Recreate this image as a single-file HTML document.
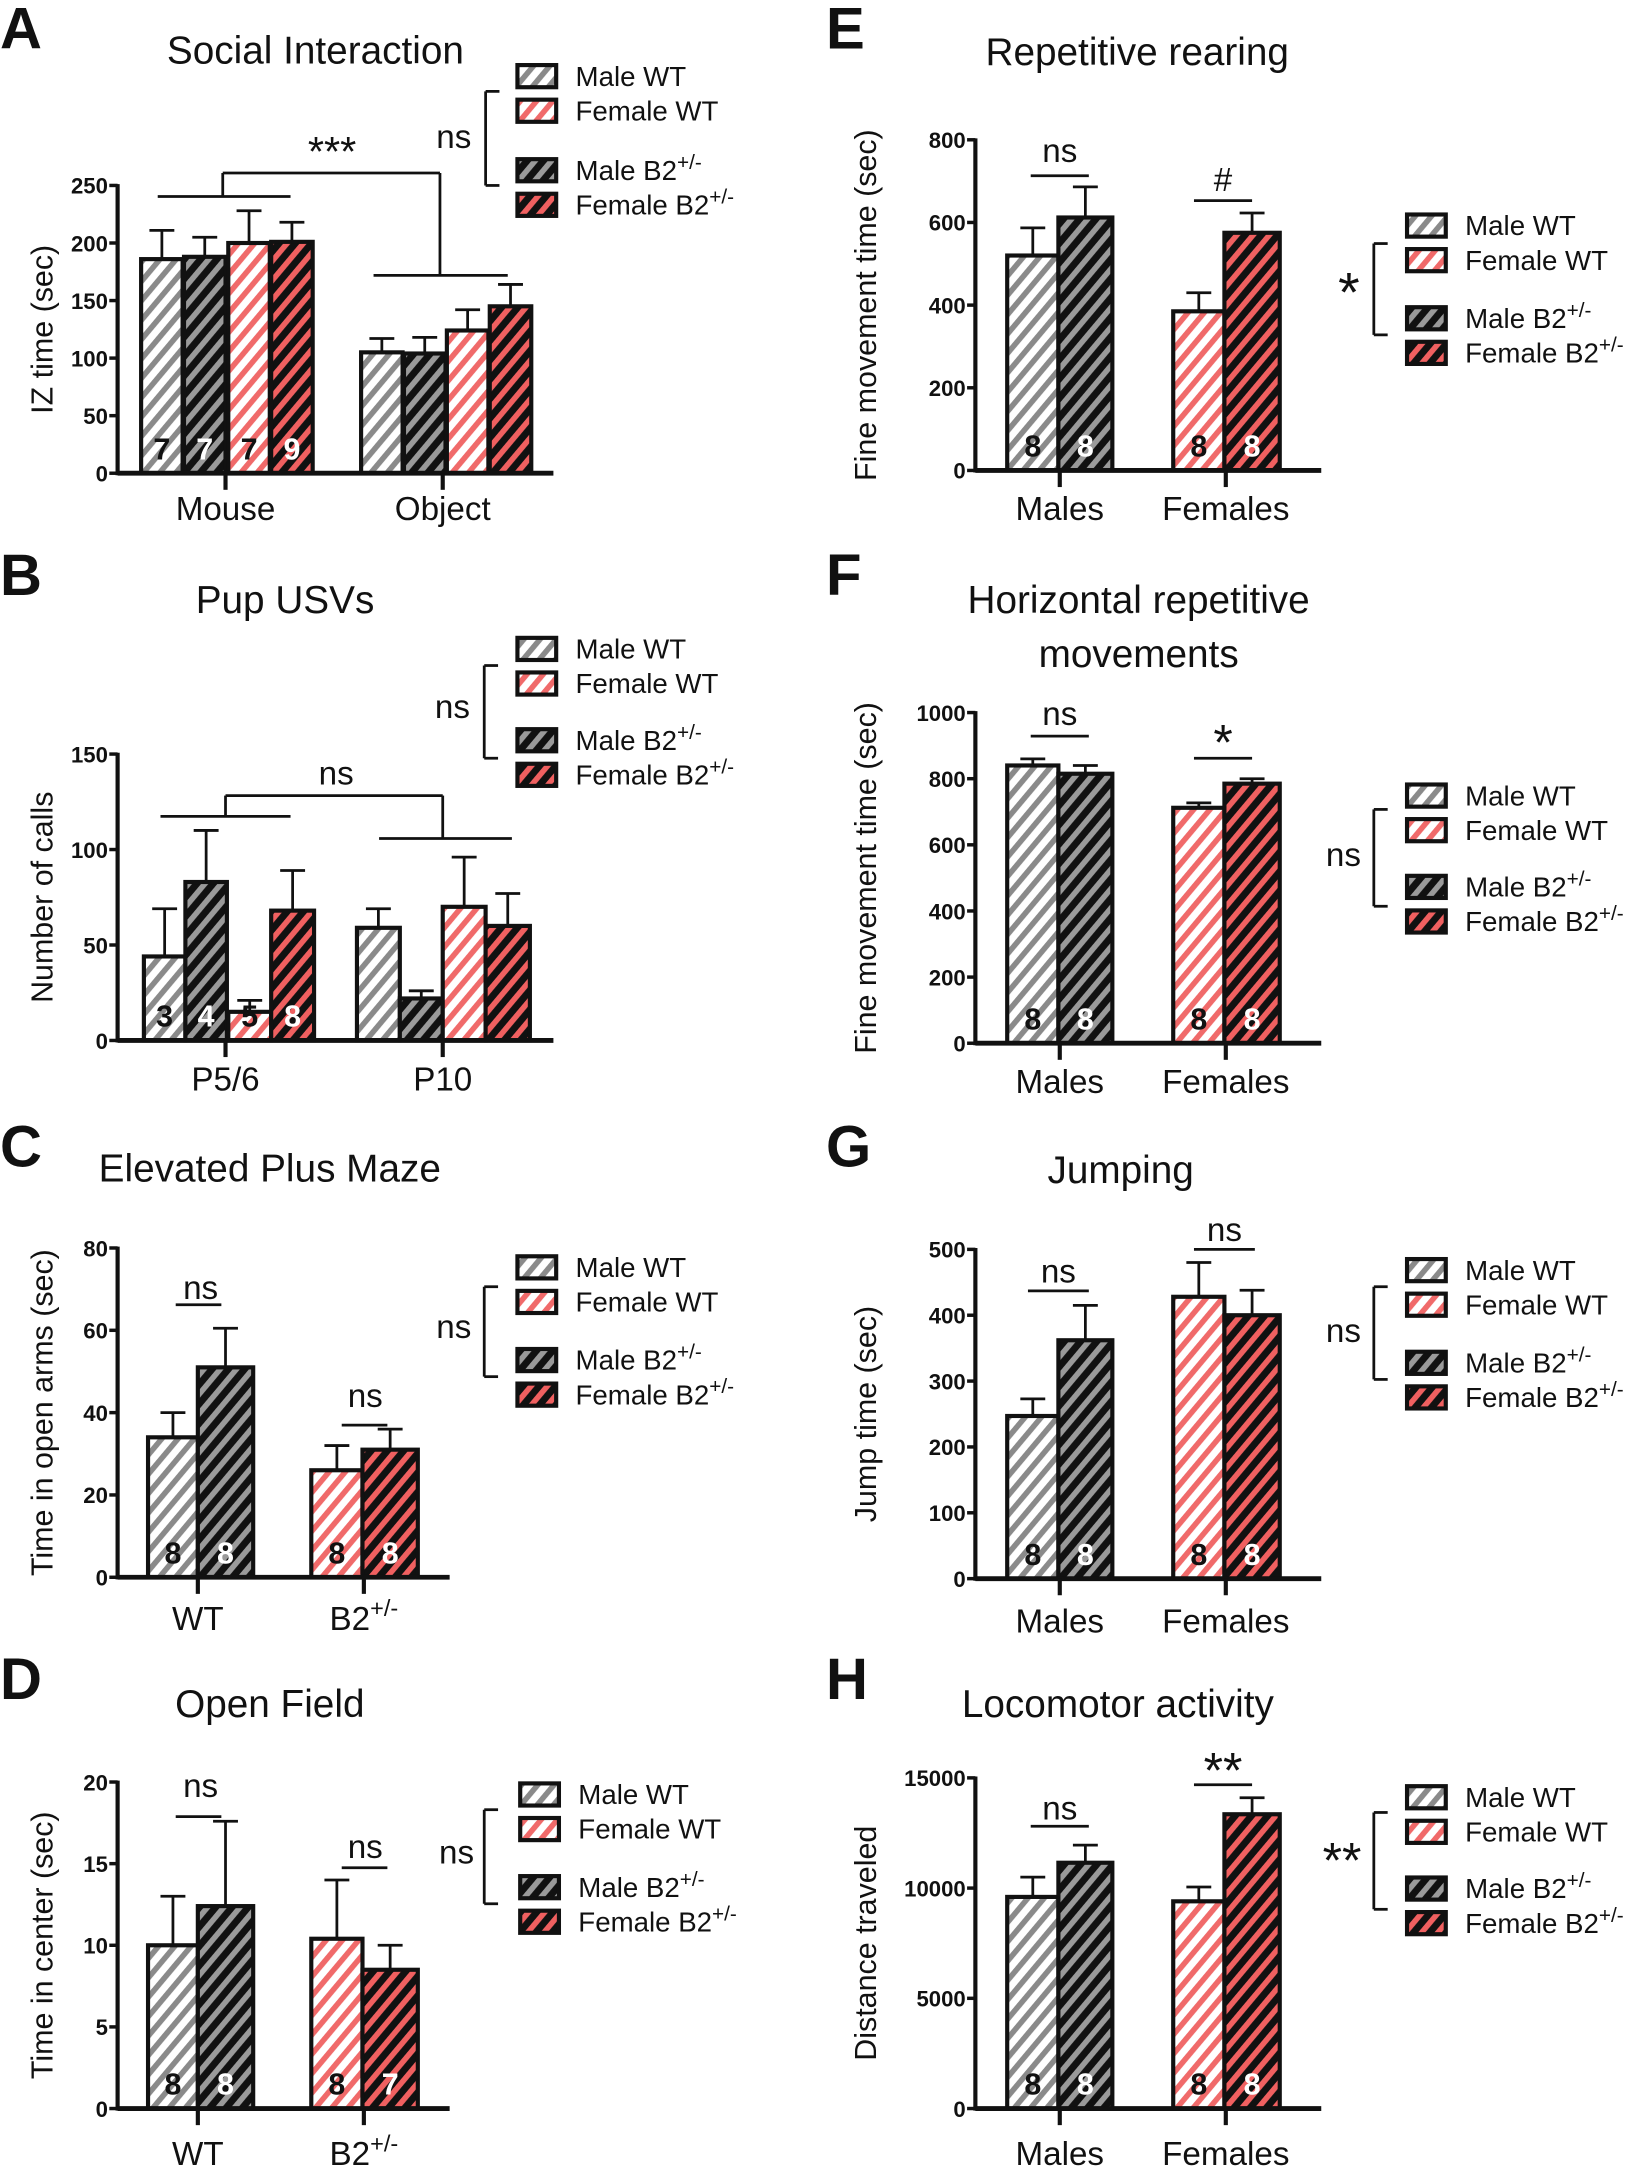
<!DOCTYPE html>
<html><head><meta charset="utf-8"><style>html,body{margin:0;padding:0;background:#fff}svg{display:block}</style></head>
<body>
<svg id="s" xmlns="http://www.w3.org/2000/svg" width="1645" height="2175" viewBox="0 0 1189 1572" font-family="Liberation Sans, sans-serif">
<defs>
<pattern id="p0" patternUnits="userSpaceOnUse" width="9" height="9" patternTransform="rotate(40)"><rect width="9" height="9" fill="#fff"/><rect width="4" height="9" fill="#8a8a8a"/></pattern>
<pattern id="p1" patternUnits="userSpaceOnUse" width="9" height="9" patternTransform="rotate(40)"><rect width="9" height="9" fill="#fff"/><rect width="4" height="9" fill="#f06a6a"/></pattern>
<pattern id="p2" patternUnits="userSpaceOnUse" width="9" height="9" patternTransform="rotate(40)"><rect width="9" height="9" fill="#111"/><rect width="4" height="9" fill="#9a9a9a"/></pattern>
<pattern id="p3" patternUnits="userSpaceOnUse" width="9" height="9" patternTransform="rotate(40)"><rect width="9" height="9" fill="#111"/><rect width="4" height="9" fill="#f06060"/></pattern>
</defs>
</svg>
<script>
var s=document.getElementById('s'),o='';
function T(x,y,t,sz,opt){opt=opt||{};o+='<text x="'+x+'" y="'+y+'" font-size="'+sz+'" text-anchor="'+(opt.a||'middle')+'"'+(opt.w?' font-weight="bold"':'')+' fill="'+(opt.f||'#111')+'"'+(opt.r?' transform="rotate(-90 '+x+' '+y+')"':'')+'>'+t+'</text>';}
function L(x1,y1,x2,y2,w){o+='<line x1="'+x1+'" y1="'+y1+'" x2="'+x2+'" y2="'+y2+'" stroke="#111" stroke-width="'+(w||2)+'"/>';}
function legend(bx,ys,nsx,nsy,sym,brx,b1,b2,symSize){
 var names=['Male WT','Female WT','Male B2<tspan dy="-8" font-size="15">+/-</tspan>','Female B2<tspan dy="-8" font-size="15">+/-</tspan>'];
 for(var i=0;i<4;i++){o+='<rect x="'+bx+'" y="'+ys[i]+'" width="28" height="16" fill="url(#p'+[0,1,2,3][i]+')" stroke="#111" stroke-width="3"/>';T(bx+42,ys[i]+15,names[i],20,{a:'start'});}
 L(brx,b1,brx,b2,2);L(brx,b1,brx+10,b1,2);L(brx,b2,brx+10,b2,2);
 T(nsx,nsy,sym,symSize||24);
}
function panel(p){
 var ax=p.ax,top=p.top,bot=p.bot,max=p.max;
 function Y(v){return bot-(bot-top)*v/max;}
 T(p.lx,p.ly,p.letter,42,{a:'start',w:1});
 for(var k=0;k<p.title.length;k++)T(p.tx,p.ty+k*39,p.title[k],28);
 T(p.ylx,(top+bot)/2,p.ylab,22,{r:1});
 p.bars.forEach(function(b){
  var y=Y(b[2]),ye=Y(b[3]),cx=b[0]+b[1]/2;
  L(cx,y,cx,ye,2);L(cx-9,ye,cx+9,ye,2);
  o+='<rect x="'+b[0]+'" y="'+y+'" width="'+b[1]+'" height="'+(bot-y)+'" fill="url(#p'+b[4]+')" stroke="#111" stroke-width="3"/>';
  if(b[5])T(cx,bot-10,b[5],22,{w:1,f:(b[4]%2==0&&b[4]==0)||b[4]==1?'#111':'#fff'});
 });
 L(ax,top-1,ax,bot+1.5,3);L(ax,bot,p.axe,bot,3.5);
 p.ticks.forEach(function(t){var y=Y(t);L(ax-6,y,ax,y,2.5);T(ax-7,y+6,t,16,{a:'end',w:1});});
 p.gx.forEach(function(g,i){L(g,bot,g,bot+12,3);T(g,p.xly,p.gl[i],24);});
}
// A
panel({letter:'A',lx:0,ly:35,title:['Social Interaction'],tx:228,ty:46,ylab:'IZ time (sec)',ylx:38,ax:85,top:134,bot:342,max:250,axe:400,
 ticks:[0,50,100,150,200,250],gx:[163,320],gl:['Mouse','Object'],xly:376,
 bars:[[102,30,186,211,0,'7'],[133,30,188,205,2,'7'],[165,30,200,228,1,'7'],[196,30,201,218,3,'9'],
 [261,30,105,117,0],[292,30,104,118,2],[323,30,124,142,1],[354,30,145,164,3]]});
L(114,142,210,142);L(161,142,161,125);L(161,125,318,125);L(318,125,318,199);L(270,199,367,199);T(240,120,'***',30);
legend(374,[47,72,115,140],328,107,'ns',351,66,134);
// B
panel({letter:'B',lx:0,ly:430,title:['Pup USVs'],tx:206,ty:443,ylab:'Number of calls',ylx:38,ax:85,top:545,bot:752,max:150,axe:400,
 ticks:[0,50,100,150],gx:[163,320],gl:['P5/6','P10'],xly:788,
 bars:[[104,30,44,69,0,'3'],[134,30,83,110,2,'4'],[165,31,15,21,1,'5'],[196,31,68,89,3,'8'],
 [258,31,59,69,0],[289,31,22,26,2],[320,31,70,96,1],[351,32,60,77,3]]});
L(116,590,210,590);L(163,590,163,575);L(163,575,320,575);L(320,575,320,606);L(274,606,370,606);T(243,567,'ns',24);
legend(374,[461,486,527,552],327,519,'ns',350,481,548);
// C
panel({letter:'C',lx:0,ly:843,title:['Elevated Plus Maze'],tx:195,ty:854,ylab:'Time in open arms (sec)',ylx:38,ax:85,top:902,bot:1140,max:80,axe:325,
 ticks:[0,20,40,60,80],gx:[143,263],gl:['WT','B2<tspan dy="-10" font-size="17">+/-</tspan>'],xly:1178,
 bars:[[107,36,34,40,0,'8'],[143,40,51,60.5,2,'8'],[225,37,26,32,1,'8'],[262,40,31,36,3,'8']]});
L(127,943,160,943);T(145,939,'ns',24);L(247,1030,280,1030);T(264,1017,'ns',24);
legend(374,[908,933,975,1000],328,967,'ns',350,930,995);
// D
panel({letter:'D',lx:0,ly:1228,title:['Open Field'],tx:195,ty:1241,ylab:'Time in center (sec)',ylx:38,ax:85,top:1288,bot:1524,max:20,axe:325,
 ticks:[0,5,10,15,20],gx:[143,263],gl:['WT','B2<tspan dy="-10" font-size="17">+/-</tspan>'],xly:1565,
 bars:[[107,36,10,13,0,'8'],[143,40,12.4,17.6,2,'8'],[225,37,10.4,14,1,'8'],[262,40,8.5,10,3,'7']]});
L(127,1313,160,1313);T(145,1299,'ns',24);L(247,1350,280,1350);T(264,1343,'ns',24);
legend(376,[1289,1314,1356,1381],330,1347,'ns',350,1308,1376);
// E
panel({letter:'E',lx:597,ly:35,title:['Repetitive rearing'],tx:822,ty:47,ylab:'Fine movement time (sec)',ylx:633,ax:705,top:101,bot:340,max:800,axe:955,
 ticks:[0,200,400,600,800],gx:[766,886],gl:['Males','Females'],xly:376,
 bars:[[728,37,520,587,0,'8'],[765,39,612,686,2,'8'],[848,37,385,430,1,'8'],[885,40,575,623,3,'8']]});
L(745,127,787,127);T(766,117,'ns',24);L(863,145,905,145);T(884,138,'#',24);
legend(1017,[155,180,222,247],975,225,'*',993,176,242,40);
// F
panel({letter:'F',lx:597,ly:430,title:['Horizontal repetitive','movements'],tx:823,ty:443,ylab:'Fine movement time (sec)',ylx:633,ax:705,top:515,bot:754,max:1000,axe:955,
 ticks:[0,200,400,600,800,1000],gx:[766,886],gl:['Males','Females'],xly:790,
 bars:[[728,37,840,860,0,'8'],[765,39,815,840,2,'8'],[848,37,712,727,1,'8'],[885,40,785,800,3,'8']]});
L(745,532,787,532);T(766,524,'ns',24);L(863,548,905,548);T(884,549,'*',36);
legend(1017,[567,592,633,658],971,626,'ns',993,585,655);
// G
panel({letter:'G',lx:597,ly:843,title:['Jumping'],tx:810,ty:855,ylab:'Jump time (sec)',ylx:633,ax:705,top:903,bot:1141,max:500,axe:955,
 ticks:[0,100,200,300,400,500],gx:[766,886],gl:['Males','Females'],xly:1180,
 bars:[[728,37,247,273,0,'8'],[765,39,362,415,2,'8'],[848,37,428,480,1,'8'],[885,40,400,438,3,'8']]});
L(743,933,787,933);T(765,927,'ns',24);L(863,903,907,903);T(885,897,'ns',24);
legend(1017,[910,935,977,1002],971,970,'ns',993,930,997);
// H
panel({letter:'H',lx:597,ly:1228,title:['Locomotor activity'],tx:808,ty:1241,ylab:'Distance traveled',ylx:633,ax:705,top:1285,bot:1524,max:15000,axe:955,
 ticks:[0,5000,10000,15000],gx:[766,886],gl:['Males','Females'],xly:1565,
 bars:[[728,37,9600,10500,0,'8'],[765,39,11150,11950,2,'8'],[848,37,9400,10050,1,'8'],[885,40,13350,14100,3,'8']]});
L(745,1320,787,1320);T(766,1315,'ns',24);L(863,1290,905,1290);T(884,1292,'**',36);
legend(1017,[1291,1316,1357,1382],970,1357,'**',993,1310,1380,36);
s.insertAdjacentHTML('beforeend',o);
</script>
</body></html>
